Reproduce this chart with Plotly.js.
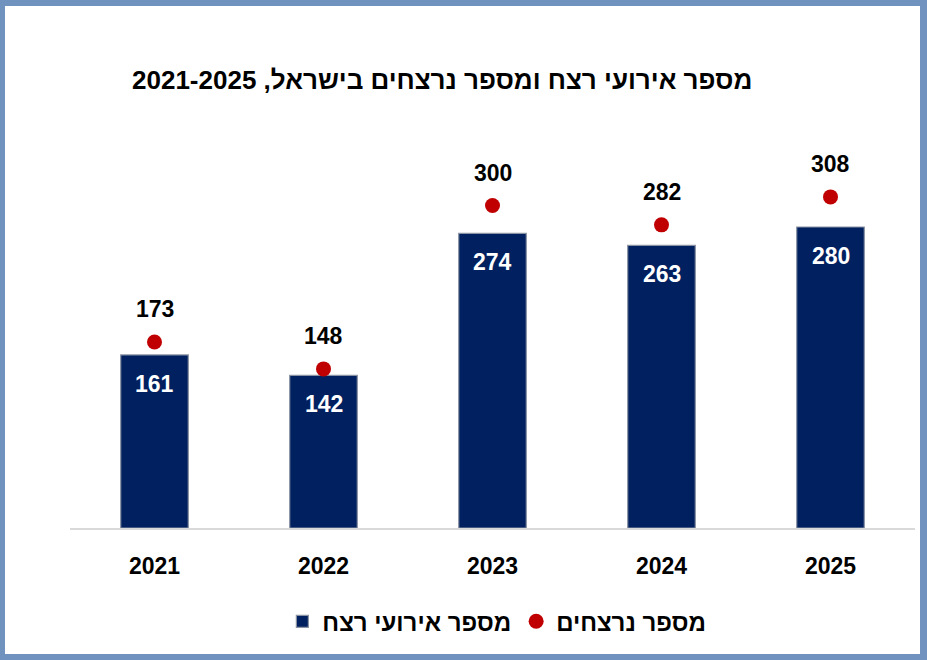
<!DOCTYPE html>
<html>
<head>
<meta charset="utf-8">
<script src="https://cdn.plot.ly/plotly-3.0.1.min.js"></script>
<style>
  html, body { margin: 0; padding: 0; background: #ffffff; }
  #wrap { position: relative; width: 927px; height: 660px; }
  #chart { position: absolute; left: 0; top: 0; width: 927px; height: 660px; }
  #frame {
    position: absolute; left: 0; top: 0; width: 927px; height: 660px;
    box-sizing: border-box; border-style: solid; border-color: #7092be;
    border-width: 6px 7px 6px 5px; pointer-events: none;
  }
</style>
</head>
<body>
<div id="wrap">
  <div id="chart"></div>
  <div id="frame"></div>
</div>
<script>
const years = ["2021", "2022", "2023", "2024", "2025"];
const incidents = [161, 142, 274, 263, 280];
const victims = [173, 148, 300, 282, 308];

const titleText = "מספר אירועי רצח ומספר נרצחים בישראל, 2021-2025";
const incidentsName = "מספר אירועי רצח";
const victimsName = "מספר נרצחים";

const fontFamily = "'Liberation Sans', Arial, 'DejaVu Sans', sans-serif";

const traces = [
  {
    type: "bar",
    x: years,
    y: incidents,
    name: incidentsName,
    width: 0.4,
    marker: { color: "#002060", line: { color: "#8a93a3", width: 1.2 } },
    hoverinfo: "skip",
  },
  {
    type: "scatter",
    mode: "markers",
    x: years,
    y: victims,
    name: victimsName,
    marker: { color: "#c00000", size: 15 },
    hoverinfo: "skip",
  },
];

// annotations on a category axis take the category index
const barLabels = years.map((year, i) => ({
  x: i,
  y: incidents[i],
  text: `<b>${incidents[i]}</b>`,
  showarrow: false,
  yanchor: "middle",
  yshift: -29,
  font: { family: fontFamily, size: 23, color: "#ffffff" },
}));

const dotLabels = years.map((year, i) => ({
  x: i,
  y: victims[i],
  text: `<b>${victims[i]}</b>`,
  showarrow: false,
  yanchor: "middle",
  yshift: 33,
  font: { family: fontFamily, size: 23, color: "#000000" },
}));

const layout = {
  width: 927,
  height: 660,
  margin: { l: 70, r: 12, t: 98, b: 132 },
  paper_bgcolor: "#ffffff",
  plot_bgcolor: "#ffffff",
  font: { family: fontFamily, color: "#000000" },
  title: {
    text: `<b>${titleText}</b>`,
    xref: "container",
    yref: "container",
    x: 0.477,
    y: 0.879,
    xanchor: "center",
    yanchor: "middle",
    font: { family: fontFamily, size: 26, color: "#000000" },
  },
  showlegend: true,
  legend: {
    orientation: "h",
    xref: "container",
    yref: "container",
    x: 0.536,
    y: 0.058,
    xanchor: "center",
    yanchor: "middle",
    font: { family: fontFamily, size: 24, color: "#000000", weight: "bold" },
    itemwidth: 30,
  },
  xaxis: {
    type: "category",
    range: [-0.5, 4.5],
    showgrid: false,
    showline: true,
    linecolor: "#d9d9d9",
    linewidth: 1.5,
    ticks: "outside",
    ticklen: 17,
    tickcolor: "rgba(0,0,0,0)",
    tickfont: { family: fontFamily, size: 23, color: "#000000", weight: "bold" },
    fixedrange: true,
  },
  yaxis: {
    range: [0, 400],
    visible: false,
    showgrid: false,
    zeroline: false,
    fixedrange: true,
  },
  annotations: [...barLabels, ...dotLabels],
};

Plotly.newPlot("chart", traces, layout, { displayModeBar: false, staticPlot: true });
</script>
</body>
</html>
